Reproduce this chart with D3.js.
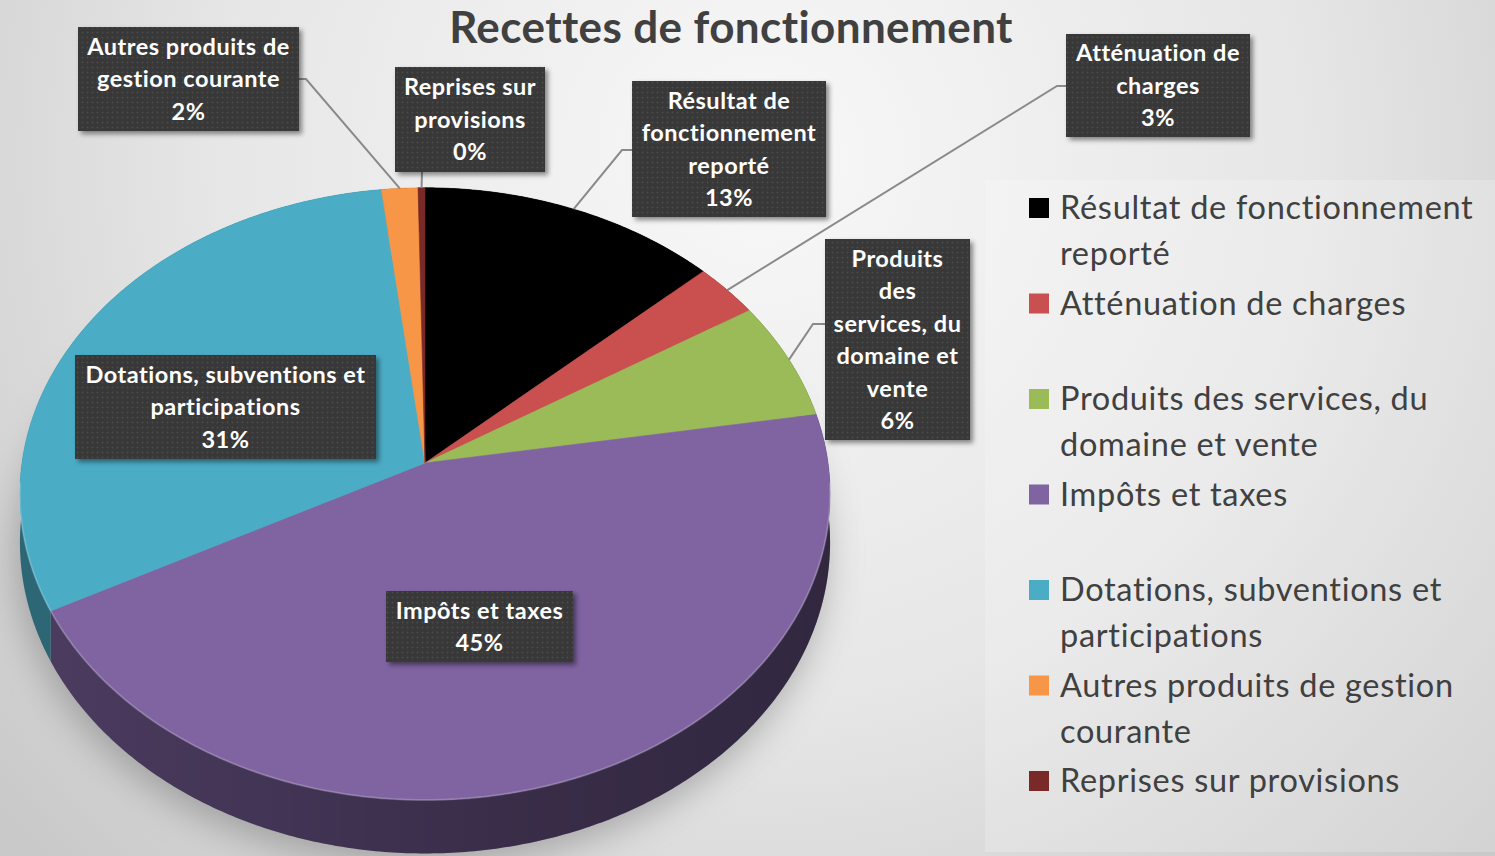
<!DOCTYPE html>
<html>
<head>
<meta charset="utf-8">
<script src="https://cdn.jsdelivr.net/npm/d3@7"></script>
<style>
  html, body { margin: 0; padding: 0; overflow: hidden; background: #e4e4e4; }
  svg { display: block; }
  text { font-variant-ligatures: none; }
</style>
</head>
<body>
<svg id="chart"></svg>
<script>
// --- data ---
const categories = [
  "Résultat de fonctionnement reporté",
  "Atténuation de charges",
  "Produits des services, du domaine et vente",
  "Impôts et taxes",
  "Dotations, subventions et participations",
  "Autres produits de gestion courante",
  "Reprises sur provisions",
]
const shares = [13.2, 2.9, 6.3, 44.9, 30.8, 1.6, 0.3]
const sliceColors = ["#000000", "#c9504e", "#9bbb59", "#8064a2", "#4bacc6", "#f79646", "#7a2929"]
const labelLines = [
  ["Résultat de", "fonctionnement", "reporté"],
  ["Atténuation de", "charges"],
  ["Produits", "des", "services, du", "domaine et", "vente"],
  ["Impôts et taxes"],
  ["Dotations, subventions et", "participations"],
  ["Autres produits de", "gestion courante"],
  ["Reprises sur", "provisions"],
]
const legendLines = [
  ["Résultat de fonctionnement", "reporté"],
  ["Atténuation de charges"],
  ["Produits des services, du", "domaine et vente"],
  ["Impôts et taxes"],
  ["Dotations, subventions et", "participations"],
  ["Autres produits de gestion", "courante"],
  ["Reprises sur provisions"],
]
const chartTitle = "Recettes de fonctionnement"

// --- layout ---
const W = 1495, H = 856
const cx = 425, cy = 463, A = 403, B = 303, K = 0.101, depth = 48
const FONT = "Lato, 'Open Sans', sans-serif"

// label boxes placed like the original (x, y, w, h) and leader elbows
const labelBoxes = [
  {x: 632, y: 81, w: 194, h: 136, leader: [[622, 150], [632, 150]]},
  {x: 1066, y: 34, w: 184, h: 103, leader: [[1057, 86], [1066, 86]]},
  {x: 825, y: 239, w: 145, h: 201, leader: [[813, 324], [825, 324]]},
  {x: 386, y: 591, w: 187, h: 71, leader: null},
  {x: 75, y: 355, w: 301, h: 104, leader: null},
  {x: 78, y: 27, w: 221, h: 104, leader: [[306, 79], [299, 79]]},
  {x: 395, y: 67, w: 150, h: 105, leader: [[422, 172]]},
]

const svg = d3.select("#chart").attr("width", W).attr("height", H)
const defs = svg.append("defs")

const bg = defs.append("radialGradient").attr("id", "bg")
  .attr("gradientUnits", "userSpaceOnUse").attr("cx", 760).attr("cy", 160).attr("r", 1000)
bg.append("stop").attr("offset", 0).attr("stop-color", "#f8f8f8")
bg.append("stop").attr("offset", 0.55).attr("stop-color", "#e6e6e6")
bg.append("stop").attr("offset", 1).attr("stop-color", "#c9c9c9")

const blur = defs.append("filter").attr("id", "pieShadow")
  .attr("x", -0.3).attr("y", -0.3).attr("width", 1.6).attr("height", 1.6)
blur.append("feGaussianBlur").attr("stdDeviation", 18)

const drop = defs.append("filter").attr("id", "boxShadow")
  .attr("x", -0.2).attr("y", -0.2).attr("width", 1.4).attr("height", 1.4)
drop.append("feDropShadow").attr("dx", 3).attr("dy", 3).attr("stdDeviation", 2.5)
  .attr("flood-color", "#000").attr("flood-opacity", 0.45)

const dots = defs.append("pattern").attr("id", "dots")
  .attr("patternUnits", "userSpaceOnUse").attr("width", 5).attr("height", 5)
dots.append("rect").attr("width", 5).attr("height", 5).attr("fill", "#383838")
dots.append("circle").attr("cx", 2.5).attr("cy", 2.5).attr("r", 0.9).attr("fill", "#4c4c4c")

const sideShade = defs.append("linearGradient").attr("id", "sideShade")
  .attr("gradientUnits", "userSpaceOnUse").attr("x1", 20).attr("x2", 830).attr("y1", 0).attr("y2", 0)
sideShade.append("stop").attr("offset", 0).attr("stop-color", "#000").attr("stop-opacity", 0.0)
sideShade.append("stop").attr("offset", 0.6).attr("stop-color", "#000").attr("stop-opacity", 0.25)
sideShade.append("stop").attr("offset", 1).attr("stop-color", "#000").attr("stop-opacity", 0.35)

svg.append("rect").attr("width", W).attr("height", H).attr("fill", "url(#bg)")
svg.append("rect").attr("x", 985).attr("y", 180).attr("width", 510).attr("height", 672)
  .attr("fill", "#ffffff").attr("opacity", 0.2)

// perspective projection of a point on the (unit) pie disc
function proj(theta, r = 1) {
  const u = r * Math.sin(theta), v = -r * Math.cos(theta)
  const s = 1 / (1 - K * v)
  return [cx + A * u * s, cy + B * v * s, s]
}
function arcPoints(a0, a1) {
  const n = Math.max(2, Math.ceil((a1 - a0) / 0.01))
  return d3.range(n + 1).map((i) => proj(a0 + (a1 - a0) * i / n))
}

const color = d3.scaleOrdinal().domain(categories).range(sliceColors)
const pie = d3.pie().sort(null).value((d, i) => shares[i])
const arcs = pie(categories)

const line = d3.line()
const pieG = svg.append("g")

// soft shadow under the pie
const outline = arcPoints(0, 2 * Math.PI).map((p) => [p[0] - 4, p[1] + depth * p[2] + 12])
pieG.append("path").attr("d", line(outline) + "Z")
  .attr("fill", "#707070").attr("opacity", 0.5).attr("filter", "url(#pieShadow)")

// side walls
arcs.forEach((a) => {
  const top = arcPoints(a.startAngle, a.endAngle)
  const bottom = top.map((p) => [p[0], p[1] + depth * p[2]]).reverse()
  const pts = top.map((p) => [p[0], p[1]]).concat(bottom)
  pieG.append("path").attr("d", line(pts) + "Z")
    .attr("fill", d3.color(color(a.data)).darker(1.45))
  pieG.append("path").attr("d", line(pts) + "Z").attr("fill", "url(#sideShade)")
})

// top faces
arcs.forEach((a) => {
  const pts = [[cx, cy]].concat(arcPoints(a.startAngle, a.endAngle).map((p) => [p[0], p[1]]))
  pieG.append("path").attr("d", line(pts) + "Z")
    .attr("fill", color(a.data))
    .attr("stroke", color(a.data)).attr("stroke-width", 0.6)
})

// faint highlight along the front rim
const rim = arcPoints(Math.PI * 0.52, Math.PI * 1.48).map((p) => [p[0], p[1]])
pieG.append("path").attr("d", line(rim)).attr("fill", "none")
  .attr("stroke", "#ffffff").attr("stroke-opacity", 0.18).attr("stroke-width", 2)

// title
svg.append("text").attr("x", 731).attr("y", 43).attr("text-anchor", "middle")
  .attr("font-family", FONT).attr("font-weight", 700)
  .attr("font-size", 44).attr("letter-spacing", 0.4).attr("fill", "#404040").text(chartTitle)

// leader lines
const fmt = (v) => d3.format(".0f")(v) + "%"
arcs.forEach((a, i) => {
  const box = labelBoxes[i]
  if (!box.leader) return
  const p = proj((a.startAngle + a.endAngle) / 2)
  svg.append("path").attr("d", line([[p[0], p[1]]].concat(box.leader)))
    .attr("fill", "none").attr("stroke", "#8a8a8a").attr("stroke-width", 2)
})

// label boxes
arcs.forEach((a, i) => {
  const box = labelBoxes[i]
  const g = svg.append("g")
  g.append("rect").attr("x", box.x).attr("y", box.y).attr("width", box.w).attr("height", box.h)
    .attr("fill", "url(#dots)").attr("filter", "url(#boxShadow)")
  const lines = labelLines[i].concat([fmt(shares[i])])
  const lineH = 32.5
  const y0 = box.y + box.h / 2 - (lines.length - 1) * lineH / 2
  g.selectAll("text").data(lines).join("text")
    .attr("x", box.x + box.w / 2)
    .attr("y", (d, j) => y0 + j * lineH)
    .attr("dy", "0.36em")
    .attr("text-anchor", "middle")
    .attr("font-family", FONT).attr("font-weight", 700)
    .attr("font-size", 23.5).attr("letter-spacing", 0.5).attr("fill", "#ffffff")
    .text((d) => d)
})

// legend
const legend = svg.append("g").attr("transform", "translate(1029,208)")
categories.forEach((c, i) => {
  const g = legend.append("g").attr("transform", `translate(0,${i * 95.5})`)
  g.append("rect").attr("x", 0).attr("y", -10).attr("width", 20).attr("height", 20).attr("fill", color(c))
  g.selectAll("text").data(legendLines[i]).join("text")
    .attr("x", 31).attr("y", (d, j) => j * 46).attr("dy", "0.35em")
    .attr("font-family", FONT)
    .attr("font-size", 32.5).attr("letter-spacing", 0.7).attr("fill", "#404040")
    .text((d) => d)
})
</script>
</body>
</html>
